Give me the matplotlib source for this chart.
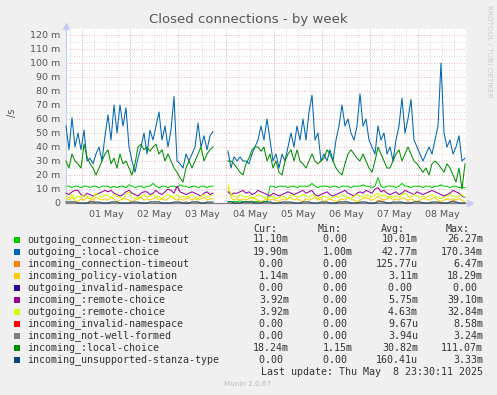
import numpy as np
import matplotlib
matplotlib.use('Agg')
import matplotlib.pyplot as plt

nan = float('nan')

# Dados: um ponto a cada 1.5 h, início 30 Abr 16:00
passo_h = 1.5
dias = ['01 May', '02 May', '03 May', '04 May', '05 May', '06 May', '07 May', '08 May']
inicio_para_meia_noite = 8.0   # horas entre o início e 01 May 00:00
total_h = 200.0

outgoing_local = [
    55, 38, 61, 40, 50, 38, 52, 30, 32, 28,
    35, 40, 30, 48, 63, 45, 70, 50, 70, 55,
    68, 40, 30, 22, 32, 40, 50, 35, 52, 45,
    55, 65, 45, 55, 40, 52, 76, 30, 28, 25,
    35, 30, 35, 40, 57, 40, 48, 38, 48, 51,
    nan, nan, nan, nan,
    37, 25, 33, 30, 33, 30, 30, 28, 35, 40,
    45, 55, 45, 60, 45, 30, 35, 25, 35, 30,
    40, 50, 40, 55, 45, 60, 45, 65, 77, 45,
    50, 30, 35, 30, 38, 30, 45, 55, 70, 55,
    60, 50, 45, 55, 78, 55, 60, 45, 40, 35,
    55, 45, 50, 35, 40, 30, 45, 55, 75, 50,
    60, 74, 45, 40, 35, 30, 35, 40, 35, 45,
    55, 100, 50, 40, 45, 35, 40, 48, 30, 32,
]

incoming_local = [
    30, 25, 35, 30, 28, 25, 42, 33, 28, 25,
    20, 25, 30, 35, 38, 28, 32, 25, 35, 28,
    30, 25, 20, 28, 40, 42, 38, 40, 37, 40,
    42, 35, 38, 30, 35, 30, 25, 22, 18, 15,
    25, 30, 25, 30, 35, 40, 30, 35, 38, 40,
    nan, nan, nan, nan,
    30, 30, 28, 25, 22, 20, 28, 32, 38, 40,
    40, 37, 40, 30, 35, 25, 30, 22, 20, 30,
    35, 38, 30, 38, 30, 28, 25, 30, 35, 30,
    28, 30, 32, 38, 35, 30, 25, 22, 20, 28,
    35, 38, 35, 32, 30, 35, 30, 25, 22, 30,
    40, 35, 30, 25, 25, 30, 35, 38, 30, 35,
    40, 35, 30, 28, 25, 22, 25, 20, 28, 30,
    28, 25, 22, 28, 25, 20, 15, 25, 10, 28,
]

outgoing_timeout = [
    12, 12, 11, 12, 12, 11, 12, 12, 11, 12,
    12, 11, 12, 12, 12, 11, 12, 11, 12, 12,
    11, 13, 12, 11, 12, 12, 11, 12, 12, 14,
    12, 11, 12, 12, 11, 12, 12, 11, 13, 12,
    12, 11, 12, 12, 11, 12, 12, 11, 12, 12,
    nan, nan, nan, nan,
    1, 1, 1, 1, 1.5, 1, 1, 1, 1, 1,
    1, 1, 1, 1, 12, 12, 11, 12, 12, 12,
    11, 12, 12, 11, 12, 12, 12, 12, 14, 12,
    11, 12, 12, 12, 11, 12, 12, 11, 12, 12,
    12, 11, 12, 12, 12, 13, 12, 12, 11, 12,
    18, 12, 11, 12, 12, 12, 11, 12, 14, 12,
    12, 11, 12, 12, 12, 11, 12, 12, 11, 12,
    12, 13, 12, 12, 11, 12, 12, 11, 11, 11,
]

incoming_remote = [
    7, 6, 8, 9, 9, 6, 5, 7, 6, 5,
    6, 7, 8, 9, 8, 9, 7, 6, 5, 6,
    8, 9, 7, 6, 5, 7, 8, 8, 6, 7,
    9, 7, 6, 8, 10, 9, 7, 12, 8, 7,
    6, 7, 8, 7, 6, 5, 7, 8, 6, 7,
    nan, nan, nan, nan,
    8, 6, 7, 7, 8, 9, 7, 8, 6, 7,
    9, 8, 7, 6, 5, 7, 6, 5, 6, 7,
    8, 7, 6, 7, 8, 9, 7, 8, 9, 6,
    5, 6, 7, 8, 6, 5, 6, 7, 8, 9,
    7, 6, 5, 7, 8, 7, 9, 8, 7, 10,
    11, 8, 9, 7, 6, 7, 8, 6, 7, 9,
    8, 7, 6, 8, 7, 6, 7, 8, 9, 8,
    7, 6, 5, 6, 7, 9, 8, 7, 5, 4,
]

outgoing_remote = [
    5, 4, 6, 3, 5, 4, 6, 5, 3, 4,
    7, 5, 4, 6, 5, 4, 6, 5, 4, 3,
    6, 8, 4, 3, 4, 5, 6, 4, 5, 6,
    5, 4, 3, 5, 6, 5, 4, 6, 4, 5,
    4, 5, 6, 4, 3, 5, 6, 4, 5, 6,
    nan, nan, nan, nan,
    13, 6, 5, 4, 6, 5, 4, 5, 3, 4,
    6, 5, 4, 3, 4, 5, 3, 4, 5, 4,
    3, 6, 5, 4, 5, 6, 5, 4, 6, 5,
    3, 4, 5, 4, 3, 4, 5, 4, 6, 5,
    4, 3, 5, 6, 5, 4, 6, 5, 4, 6,
    7, 5, 6, 4, 5, 4, 5, 4, 6, 7,
    5, 4, 6, 5, 4, 5, 4, 5, 6, 5,
    4, 3, 4, 5, 6, 5, 4, 5, 6, 4,
]

policy_violation = [
    3, 2, 4, 2, 1, 3, 2, 4, 3, 2,
    4, 3, 2, 3, 2, 4, 3, 1, 2, 3,
    3, 2, 1, 2, 3, 4, 2, 3, 2, 3,
    4, 2, 3, 2, 3, 5, 3, 2, 3, 2,
    3, 4, 2, 3, 2, 3, 4, 2, 3, 3,
    nan, nan, nan, nan,
    11, 4, 2, 3, 2, 3, 2, 3, 4, 3,
    2, 1, 2, 3, 2, 3, 2, 1, 3, 2,
    3, 4, 2, 3, 2, 1, 3, 2, 3, 4,
    2, 3, 1, 2, 3, 2, 1, 2, 3, 2,
    4, 3, 2, 1, 2, 3, 4, 3, 2, 3,
    5, 3, 2, 3, 4, 2, 3, 2, 4, 3,
    2, 3, 2, 1, 2, 3, 3, 2, 3, 4,
    2, 1, 2, 3, 2, 3, 2, 3, 2, 1,
]

incoming_timeout = [
    0, 0, 0, 0, 0, 0, 0, 0, 1.5, 1,
    0, 0, 0, 0, 0, 0, 0, 0, 0, 0,
    0, 0, 0, 0, 0, 0, 0, 0, 0, 0,
    0, 0, 0, 0, 0, 0, 0, 0, 0, 0,
    1, 0, 0, 0, 0, 0, 0, 0, 0, 0,
    nan, nan, nan, nan,
    0, 0, 0, 0, 0, 0, 0, 0, 1.5, 0,
    0, 0, 0, 0, 0, 0, 0, 0, 0, 0,
    0, 0, 0, 0, 0, 0, 0, 0, 0, 0,
    0, 0, 0, 0, 0, 0, 0, 0, 0, 0,
    0, 0, 0, 0, 0, 0, 0, 0, 0, 0,
    2, 1.5, 0, 0, 0, 0, 0, 0, 0, 0,
    1, 0, 0, 0, 0, 0, 0, 0, 0, 0,
    0, 0, 0, 0, 0, 2, 0, 0, 0, 0,
]

unsupported_stanza = [
    0.8, 0.8, 0.8, 0.8, 0, 0, 0, 0, 0.7, 0.7,
    0.7, 0.7, 0, 0, 0, 0.8, 0.8, 0.8, 0, 0,
    0, 0, 0.7, 0.7, 0.7, 0, 0, 0, 0.8, 0.8,
    0.8, 0.8, 0, 0, 0, 0, 0.7, 0.7, 0.7, 0,
    0, 0, 0.8, 0.8, 0.8, 0, 0, 0.7, 0.7, 0.7,
    nan, nan, nan, nan,
    0.8, 0.8, 0, 0, 0, 0.7, 0.7, 0.7, 0.7, 0,
    0, 0, 0.8, 0.8, 0.8, 0, 0, 0, 0.7, 0.7,
    0.7, 0.7, 0, 0, 0, 0.8, 0.8, 0.8, 0, 0,
    0, 0.7, 0.7, 0.7, 0, 0, 0, 0.8, 0.8, 0.8,
    0.8, 0, 0, 0, 0.7, 0.7, 0.7, 0, 0, 0,
    0.8, 0.8, 0.8, 0, 0, 0.7, 0.7, 0.7, 0.7, 0,
    0, 0, 0.8, 0.8, 0.8, 0, 0, 0, 0.7, 0.7,
    0.7, 0, 0, 0, 0.8, 0.8, 0.8, 0, 0, 0,
]

# séries que ficam em zero no gráfico inteiro (início e fim da janela)
t_plano = [0.0, 199.5]
outgoing_invalid_ns = [0.0, 0.0]
incoming_invalid_ns = [0.0, 0.0]
not_well_formed = [0.0, 0.0]

# Legenda: nome, cor, cur, min, avg, max
nomes = ['outgoing_connection-timeout', 'outgoing_:local-choice',
         'incoming_connection-timeout', 'incoming_policy-violation',
         'outgoing_invalid-namespace', 'incoming_:remote-choice',
         'outgoing_:remote-choice', 'incoming_invalid-namespace',
         'incoming_not-well-formed', 'incoming_:local-choice',
         'incoming_unsupported-stanza-type']
cores = ['#00CC00', '#0066B3', '#FF8000', '#FFCC00', '#330099', '#990099',
         '#CCFF00', '#FF0000', '#808080', '#008F00', '#00487D']
cur = ['11.10m', '19.90m', '0.00 ', '1.14m', '0.00 ', '3.92m',
       '3.92m', '0.00 ', '0.00 ', '18.24m', '0.00 ']
minimo = ['0.00 ', '1.00m', '0.00 ', '0.00 ', '0.00 ', '0.00 ',
          '0.00 ', '0.00 ', '0.00 ', '1.15m', '0.00 ']
media = ['10.01m', '42.77m', '125.77u', '3.11m', '0.00 ', '5.75m',
         '4.63m', '9.67u', '3.94u', '30.82m', '160.41u']
maximo = ['26.27m', '170.34m', '6.47m', '18.29m', '0.00 ', '39.10m',
          '32.84m', '8.58m', '3.24m', '111.07m', '3.33m']

W, H = 497, 395


def fx(px):
    return px / W


def fy(py):
    return 1 - py / H


n = len(outgoing_local)
horas = np.arange(n) * passo_h

fig = plt.figure(figsize=(W / 100, H / 100), dpi=100)
fig.patch.set_facecolor('#F0F0F0')

# área do gráfico: x 66..466, y 28..203 (pixels)
ax = fig.add_axes([fx(66), fy(203), fx(400), 175 / H])
ax.set_facecolor('white')

ymax = 125.0
ax.set_xlim(0, total_h)
ax.set_ylim(0, ymax)

# grade: menor a cada 6 h / 5 m, maior a cada dia / 10 m
for h in np.arange(2.0, total_h, 6.0):
    ax.axvline(h, color='#D0D0D0', lw=0.6, ls=(0, (1, 2)), zorder=0)
for v in np.arange(5, ymax + 1, 10):
    ax.axhline(v, color='#D0D0D0', lw=0.6, ls=(0, (1, 2)), zorder=0)
meia_noite = inicio_para_meia_noite + 24.0 * np.arange(len(dias))
for h in meia_noite:
    ax.axvline(h, color='#E8A0A0', lw=0.6, ls=(0, (1, 2)), zorder=0.5)
for v in np.arange(10, ymax, 10):
    ax.axhline(v, color='#E8A0A0', lw=0.6, ls=(0, (1, 2)), zorder=0.5)

lw = 0.75
series = [
    (horas, outgoing_timeout, cores[0]),
    (horas, outgoing_local, cores[1]),
    (horas, incoming_timeout, cores[2]),
    (horas, policy_violation, cores[3]),
    (t_plano, outgoing_invalid_ns, cores[4]),
    (horas, incoming_remote, cores[5]),
    (horas, outgoing_remote, cores[6]),
    (t_plano, incoming_invalid_ns, cores[7]),
    (t_plano, not_well_formed, cores[8]),
    (horas, incoming_local, cores[9]),
    (horas, unsupported_stanza, cores[10]),
]
for k, (t, y, c) in enumerate(series):
    ax.plot(t, y, color=c, lw=lw, zorder=2 + k, clip_on=False)

# eixos
for lado in ['top', 'right']:
    ax.spines[lado].set_visible(False)
for lado in ['left', 'bottom']:
    ax.spines[lado].set_color('#C8CCF0')
    ax.spines[lado].set_linewidth(0.8)
ax.plot([0], [ymax + 1.5], marker='^', color='#C8CCF0', ms=4, clip_on=False, zorder=20)
ax.plot([total_h + 2.0], [0], marker='>', color='#C8CCF0', ms=4, clip_on=False, zorder=20)

ax.set_yticks(np.arange(0, 121, 10))
ax.set_yticklabels(['0'] + [f'{v} m' for v in range(10, 121, 10)])
ax.set_xticks(meia_noite + 12.0)
ax.set_xticklabels(dias)
ax.tick_params(axis='both', length=0, labelsize=6.8, colors='#555555', pad=4)
ax.tick_params(axis='x', pad=5)

fig.text(fx(12), fy(113), '/s', rotation=90, ha='center', va='center',
         fontsize=7, color='#555555')
fig.text(fx(248), fy(19), 'Closed connections - by week', ha='center', va='center',
         fontsize=9.5, color='#555555')
fig.text(fx(489), fy(5), 'RRDTOOL / TOBI OETIKER', rotation=-90, ha='center', va='top',
         fontsize=5.2, color='#CCCCCC')

# legenda em fonte monoespaçada
mono = 'DejaVu Sans Mono'
fs = 7.2
cor_txt = '#333333'
y_cab = 228.5
for titulo, xr in [('Cur:', 277), ('Min:', 342), ('Avg:', 405), ('Max:', 470)]:
    fig.text(fx(xr), fy(y_cab), titulo, ha='right', va='center',
             family=mono, fontsize=fs, color=cor_txt)

for i, nome in enumerate(nomes):
    yy = 239.5 + i * 12.05
    fig.patches.append(plt.Rectangle((fx(14), fy(yy + 3)), fx(6), 6 / H,
                                     transform=fig.transFigure, facecolor=cores[i],
                                     edgecolor='none'))
    fig.text(fx(27), fy(yy), nome, ha='left', va='center',
             family=mono, fontsize=fs, color=cor_txt)
    for col, xr in [(cur, 289), (minimo, 353), (media, 418), (maximo, 483)]:
        fig.text(fx(xr), fy(yy), col[i], ha='right', va='center',
                 family=mono, fontsize=fs, color=cor_txt)

fig.text(fx(483), fy(372), 'Last update: Thu May  8 23:30:11 2025', ha='right', va='center',
         family=mono, fontsize=fs, color=cor_txt)
fig.text(fx(248), fy(384.5), 'Munin 2.0.67', ha='center', va='center',
         fontsize=5.2, color='#BBBBBB')

fig.savefig('out.png', dpi=100, facecolor=fig.get_facecolor())
